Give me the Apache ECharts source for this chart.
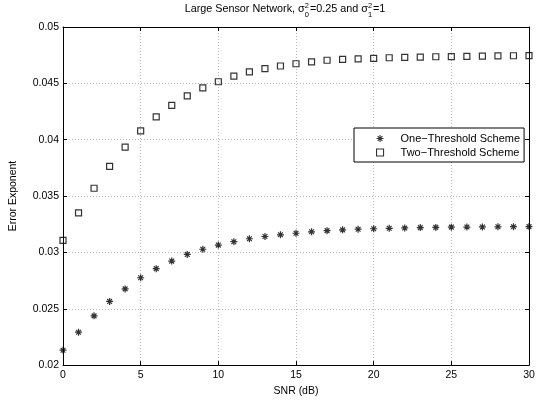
<!DOCTYPE html>
<html>
<head>
<meta charset="utf-8">
<script src="https://cdn.jsdelivr.net/npm/echarts@6/dist/echarts.min.js"></script>
<style>
  html, body { margin: 0; padding: 0; background: #fff; }
  #chart { width: 543px; height: 402px; }
</style>
</head>
<body>
<div id="chart"></div>
<script>
// SNR in dB, 0..30
var snr = [0,1,2,3,4,5,6,7,8,9,10,11,12,13,14,15,16,17,18,19,20,21,22,23,24,25,26,27,28,29,30];
// one-threshold scheme (stars)
var oneThreshold = [0.02132,0.02292,0.02437,0.02565,0.02676,0.02775,0.02856,0.02923,0.02982,0.03028,
  0.03065,0.03095,0.03121,0.03141,0.03156,0.03170,0.03183,0.03193,0.03200,0.03206,
  0.03210,0.03214,0.03217,0.03220,0.03222,0.03224,0.03225,0.03226,0.03227,0.03228,0.03229];
// two-threshold scheme (squares)
var twoThreshold = [0.03106,0.03351,0.03569,0.03764,0.03935,0.04078,0.04203,0.04305,0.04389,0.04459,
  0.04514,0.04564,0.04601,0.04631,0.04654,0.04674,0.04690,0.04705,0.04712,0.04718,
  0.04722,0.04727,0.04730,0.04733,0.04736,0.04738,0.04740,0.04742,0.04744,0.04745,0.04746];
var seriesNames = ['One\u2212Threshold Scheme', 'Two\u2212Threshold Scheme'];

var FONT = 'Liberation Sans, Arial, Helvetica, sans-serif';
var starPath = 'path://M0,5L10,5M5,0L5,10M1.6,1.6L8.4,8.4M8.4,1.6L1.6,8.4';
var squarePath = 'path://M0,0L10,0L10,10L0,10Z';

function pairs(xs, ys) {
  var out = [];
  for (var i = 0; i < xs.length; i++) out.push([xs[i], ys[i]]);
  return out;
}

// measure text for the title pieces
var cv = document.createElement('canvas').getContext('2d');
function tw(s, size) { cv.font = size + 'px ' + FONT; return cv.measureText(s).width; }

function titleGraphic() {
  var big = 10.8, small = 7.5;
  var parts = [
    { t: 'Large Sensor Network, \u03c3' },
    { sup: '2', sub: '0' },
    { t: '=0.25 and \u03c3' },
    { sup: '2', sub: '1' },
    { t: '=1' }
  ];
  var total = 0;
  parts.forEach(function (p) {
    p.w = p.t ? tw(p.t, big) : Math.max(tw(p.sup, small), tw(p.sub, small)) + 1;
    total += p.w;
  });
  var x = 285 - total / 2, yMid = 9.5;
  var els = [];
  parts.forEach(function (p) {
    if (p.t) {
      els.push({ type: 'text', x: x, y: yMid, style: { text: p.t, font: big + 'px ' + FONT, fill: '#000', verticalAlign: 'middle' } });
    } else {
      els.push({ type: 'text', x: x, y: yMid - 4, style: { text: p.sup, font: small + 'px ' + FONT, fill: '#000', verticalAlign: 'middle' } });
      els.push({ type: 'text', x: x, y: yMid + 5, style: { text: p.sub, font: small + 'px ' + FONT, fill: '#000', verticalAlign: 'middle' } });
    }
    x += p.w;
  });
  return els;
}

var chart = echarts.init(document.getElementById('chart'));

var gridLine = { show: true, lineStyle: { color: '#b8b8b8', type: [1, 2], width: 1 } };
var tickIn = { show: true, inside: true, length: 4, lineStyle: { color: '#000' } };
var axLine = { show: true, onZero: false, lineStyle: { color: '#000', width: 1 } };
var lblFont = { color: '#000', fontSize: 10.5, fontFamily: FONT };

chart.setOption({
  animation: false,
  backgroundColor: '#fff',
  graphic: titleGraphic(),
  grid: { left: 62, right: 14, top: 27, bottom: 31, show: false },
  legend: {
    orient: 'vertical',
    left: 354, top: 128,
    data: [
      { name: seriesNames[0], icon: starPath, itemStyle: { color: '#000', borderColor: '#000', borderWidth: 1.1 } },
      { name: seriesNames[1], icon: squarePath, itemStyle: { color: 'rgba(255,255,255,0)', borderColor: '#000', borderWidth: 1.1 } }
    ],
    backgroundColor: '#fff',
    borderColor: '#000', borderWidth: 1,
    padding: [5, 4, 4, 22],
    itemWidth: 7, itemHeight: 7, itemGap: 3,
    textStyle: { color: '#000', fontSize: 11, fontFamily: FONT, padding: [0, 0, 0, 12] },
    selectedMode: false
  },
  xAxis: [{
    type: 'value', min: 0, max: 30, interval: 5,
    name: 'SNR (dB)', nameLocation: 'middle', nameGap: 16,
    nameTextStyle: lblFont,
    axisLine: axLine, axisTick: tickIn,
    axisLabel: Object.assign({ margin: 5 }, lblFont),
    splitLine: gridLine
  }, {
    type: 'value', min: 0, max: 30, interval: 5, position: 'top',
    axisLine: axLine, axisTick: tickIn, axisLabel: { show: false }, splitLine: { show: false }
  }],
  yAxis: [{
    type: 'value', min: 0.02, max: 0.05, interval: 0.005,
    name: 'Error Exponent', nameLocation: 'middle', nameGap: 44,
    nameTextStyle: lblFont,
    axisLine: axLine, axisTick: tickIn,
    axisLabel: Object.assign({ margin: 4, formatter: function (v) { return String(+v.toFixed(3)); } }, lblFont),
    splitLine: gridLine
  }, {
    type: 'value', min: 0.02, max: 0.05, interval: 0.005, position: 'right',
    axisLine: axLine, axisTick: tickIn, axisLabel: { show: false }, splitLine: { show: false }
  }],
  series: [{
    name: seriesNames[0], type: 'scatter',
    data: pairs(snr, oneThreshold),
    symbol: starPath, symbolSize: 7,
    itemStyle: { color: '#000', borderColor: '#000', borderWidth: 1.2 }
  }, {
    name: seriesNames[1], type: 'scatter',
    data: pairs(snr, twoThreshold),
    symbol: 'rect', symbolSize: 6,
    itemStyle: { color: 'rgba(255,255,255,0)', borderColor: '#000', borderWidth: 1.2 }
  }]
});
</script>
</body>
</html>
